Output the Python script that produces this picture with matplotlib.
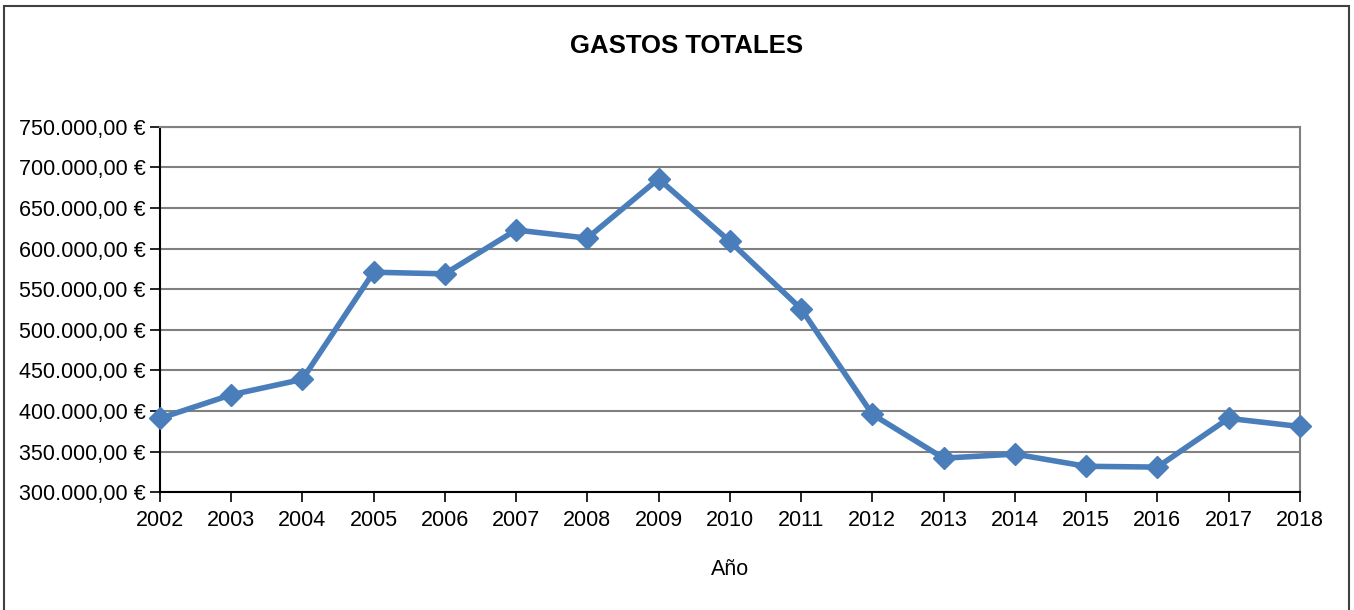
import matplotlib
matplotlib.use('Agg')
import matplotlib.pyplot as plt
from matplotlib.ticker import FuncFormatter, MultipleLocator
from matplotlib.patches import Rectangle

plt.rcParams['font.family'] = ['Liberation Sans', 'DejaVu Sans']

# Data
years = [2002, 2003, 2004, 2005, 2006, 2007, 2008, 2009, 2010,
         2011, 2012, 2013, 2014, 2015, 2016, 2017, 2018]
gastos = [391000, 420000, 439000, 571000, 569000, 623000, 613000, 686000, 609000,
          526000, 396000, 342000, 347000, 332000, 331000, 391000, 381000]


def euro(v, pos):
    s = f'{v:,.2f}'.replace(',', 'X').replace('.', ',').replace('X', '.')
    return s + ' €'


fig = plt.figure(figsize=(13.54, 6.10), dpi=100)
ax = fig.add_axes([0.118, 0.193, 0.842, 0.599])

ax.plot(years, gastos, color='#4A7EBB', lw=4, marker='D', ms=11,
        markerfacecolor='#4A7EBB', markeredgecolor='#4A7EBB', zorder=3,
        clip_on=False)

ax.set_xlim(2002, 2018)
ax.set_ylim(300000, 750000)
ax.yaxis.set_major_locator(MultipleLocator(50000))
ax.yaxis.set_major_formatter(FuncFormatter(euro))
ax.set_xticks(years)
ax.grid(axis='y', color='#808080', lw=1.5)
ax.set_axisbelow(True)

for side in ['top', 'right']:
    ax.spines[side].set_color('#808080')
    ax.spines[side].set_linewidth(1.5)
for side in ['left', 'bottom']:
    ax.spines[side].set_color('black')
    ax.spines[side].set_linewidth(1.5)

ax.tick_params(axis='both', direction='out', length=7, width=1.2, labelsize=15.5, pad=3)
ax.tick_params(axis='x', pad=6)

ax.set_xlabel('Año', fontsize=15.5, labelpad=20)
fig.text(0.507, 0.924, 'GASTOS TOTALES', ha='center', va='center',
         fontsize=18.5, fontweight='bold')

fig.patches.append(Rectangle((0.003, -0.01), 0.993, 1.0, transform=fig.transFigure,
                             fill=False, edgecolor='#404040', lw=1.5))

fig.savefig('out.png', dpi=100)
